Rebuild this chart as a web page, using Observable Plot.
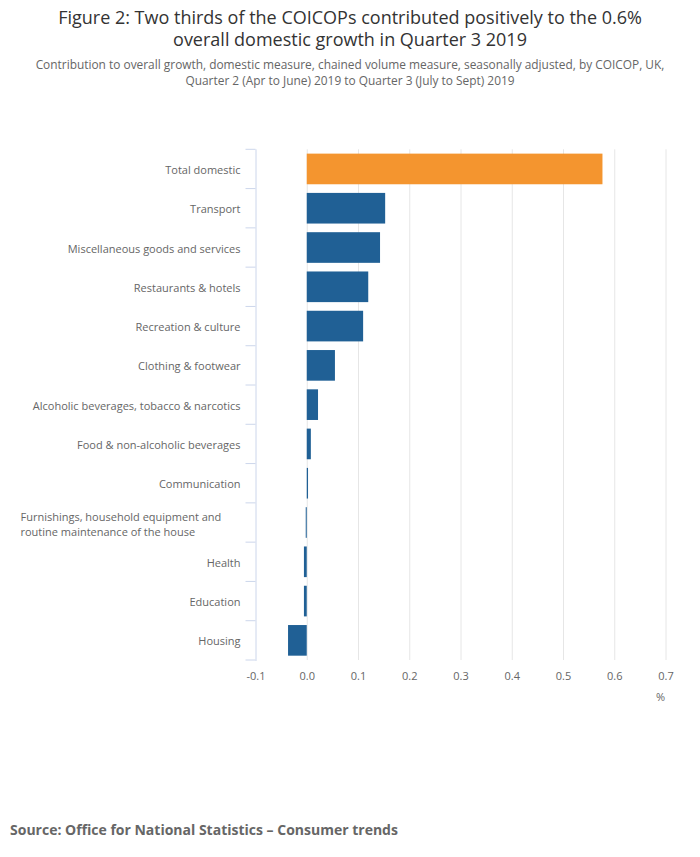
<!DOCTYPE html>
<html>
<head>
<meta charset="utf-8">
<script src="https://cdn.jsdelivr.net/npm/d3@7"></script>
<script src="https://cdn.jsdelivr.net/npm/@observablehq/plot@0.6"></script>
<style>
  body { margin: 0; background: #fff; width: 700px; height: 857px; position: relative; font-family: "Open Sans", sans-serif; }
  #title { position: absolute; top: 6px; left: 0; width: 700px; text-align: center; font-size: 18px; line-height: 22px; color: #333; }
  #subtitle { position: absolute; top: 56px; left: 0; width: 700px; text-align: center; font-size: 11.9px; line-height: 16px; color: #666; }
  #chart { position: absolute; top: 100px; left: 0; }
  #source { position: absolute; top: 820px; left: 10px; font-size: 14px; font-weight: bold; color: #666; }
</style>
</head>
<body>
<div id="title">Figure 2: Two thirds of the COICOPs contributed positively to the 0.6%<br>overall domestic growth in Quarter 3 2019</div>
<div id="subtitle">Contribution to overall growth, domestic measure, chained volume measure, seasonally adjusted, by COICOP, UK,<br>Quarter 2 (Apr to June) 2019 to Quarter 3 (July to Sept) 2019</div>
<div id="chart"></div>
<div id="source">Source: Office for National Statistics – Consumer trends</div>
<script>
const categories = [
  "Total domestic",
  "Transport",
  "Miscellaneous goods and services",
  "Restaurants & hotels",
  "Recreation & culture",
  "Clothing & footwear",
  "Alcoholic beverages, tobacco & narcotics",
  "Food & non-alcoholic beverages",
  "Communication",
  "Furnishings, household equipment and routine maintenance of the house",
  "Health",
  "Education",
  "Housing"
];
const categoryLabels = [
  "Total domestic",
  "Transport",
  "Miscellaneous goods and services",
  "Restaurants & hotels",
  "Recreation & culture",
  "Clothing & footwear",
  "Alcoholic beverages, tobacco & narcotics",
  "Food & non-alcoholic beverages",
  "Communication",
  "Furnishings, household equipment and\nroutine maintenance of the house",
  "Health",
  "Education",
  "Housing"
];
const values = [0.577, 0.153, 0.143, 0.120, 0.110, 0.055, 0.022, 0.008, 0.0025, -0.002, -0.0055, -0.0055, -0.0365];
const xTicks = [-0.1, 0, 0.1, 0.2, 0.3, 0.4, 0.5, 0.6, 0.7];
const gridTicks = [0, 0.1, 0.2, 0.3, 0.4, 0.5, 0.6, 0.7];
const unitLabel = "%";

const data = categories.map((c, i) => ({category: c, label: categoryLabels[i], value: values[i]}));
const wrapped = data.filter(d => d.label.includes("\n"));
const single = data.filter(d => !d.label.includes("\n"));

const W = 700, H = 610, mt = 49.3, mb = 50, ml = 255.5, mr = 34.5;

function bandTicks(index, scales, vals, dims) {
  const g = d3.create("svg:g").attr("stroke", "#ccd6eb").attr("stroke-width", 1);
  const n = categories.length;
  const top = dims.marginTop, bottom = dims.height - dims.marginBottom;
  const step = (bottom - top) / n;
  const x0 = dims.marginLeft;
  for (let i = 0; i <= n; i++) {
    const y = top + i * step;
    g.append("line").attr("x1", x0 - 10).attr("x2", x0).attr("y1", y).attr("y2", y);
  }
  return g.node();
}

const chart = Plot.plot({
  width: W,
  height: H,
  marginTop: mt,
  marginBottom: mb,
  marginLeft: ml,
  marginRight: mr,
  style: {fontFamily: "Open Sans", fontSize: "11px", color: "#666", background: "white"},
  x: {domain: [-0.1, 0.7], axis: null},
  y: {domain: categories, paddingInner: 0.22, paddingOuter: 0.11, round: false, axis: null},
  marks: [
    Plot.gridX(gridTicks, {stroke: "#e6e6e6", strokeOpacity: 1}),
    Plot.barX(data, {
      x: "value",
      y: "category",
      fill: d => d.category === "Total domestic" ? "#f4952f" : "#206095"
    }),
    Plot.frame({anchor: "left", stroke: "#ccd6eb", strokeOpacity: 1}),
    bandTicks,
    Plot.axisX({
      ticks: xTicks,
      tickFormat: d => d.toFixed(1),
      tickSize: 0,
      tickPadding: 12,
      fontSize: 11,
      fill: "#666",
      label: null
    }),
    Plot.text(single, {
      y: "category",
      text: "label",
      frameAnchor: "left",
      textAnchor: "end",
      dx: -15.5,
      dy: 1,
      fontSize: 11,
      fill: "#666"
    }),
    Plot.text(wrapped, {
      y: "category",
      text: "label",
      frameAnchor: "left",
      textAnchor: "start",
      dx: -235.5,
      dy: 1,
      lineHeight: 1.36,
      fontSize: 11,
      fill: "#666"
    }),
    Plot.text([unitLabel], {
      frameAnchor: "bottom-right",
      textAnchor: "end",
      dx: -1,
      dy: 40,
      fontSize: 11,
      fill: "#666"
    })
  ]
});
document.getElementById("chart").appendChild(chart);
</script>
</body>
</html>
